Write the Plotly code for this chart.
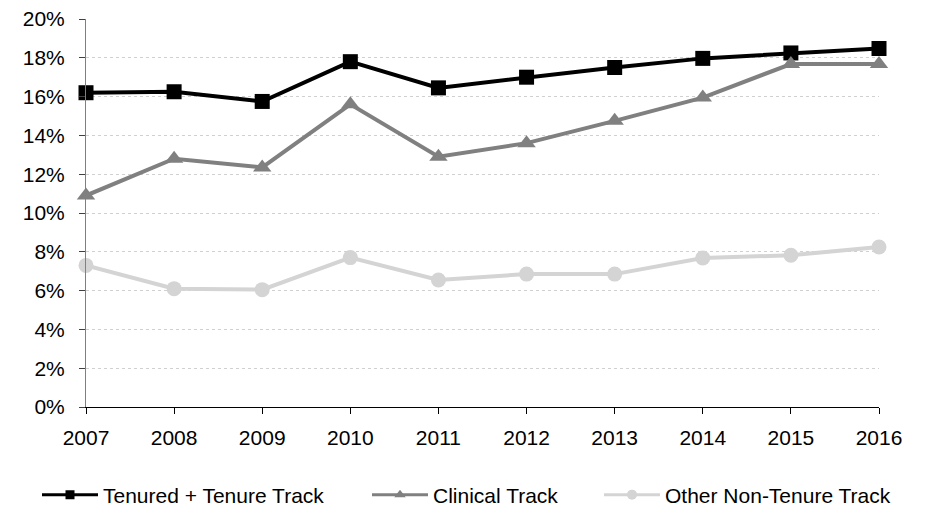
import plotly.graph_objects as go

years = [2007, 2008, 2009, 2010, 2011, 2012, 2013, 2014, 2015, 2016]
tenured = [16.2, 16.25, 15.75, 17.8, 16.45, 17.0, 17.5, 17.97, 18.25, 18.48]
clinical = [10.9, 12.8, 12.35, 15.6, 12.9, 13.6, 14.75, 15.95, 17.68, 17.68]
other = [7.3, 6.1, 6.05, 7.7, 6.55, 6.85, 6.85, 7.68, 7.82, 8.25]
y_ticks = [0, 2, 4, 6, 8, 10, 12, 14, 16, 18, 20]
y_labels = [f"{v}%" for v in y_ticks]

FONT = "Liberation Sans, Arial, sans-serif"

series = [
    ("Tenured + Tenure Track", tenured, "#000000", "square", 15, 9, "legend"),
    ("Clinical Track", clinical, "#808080", "triangle-up", 16, 10, "legend2"),
    ("Other Non-Tenure Track", other, "#d4d4d4", "circle", 15, 10, "legend3"),
]

fig = go.Figure()
for name, vals, color, sym, msize, lsize, leg in series:
    fig.add_trace(go.Scatter(x=years, y=vals, name=name, showlegend=False,
                             mode="lines+markers", cliponaxis=False,
                             line=dict(color=color, width=4),
                             marker=dict(symbol=sym, size=msize, color=color)))
    # legend entry with smaller symbol, as in the reference
    fig.add_trace(go.Scatter(x=[None], y=[None], name=name, legend=leg,
                             mode="lines+markers", showlegend=True,
                             line=dict(color=color, width=3),
                             marker=dict(symbol=sym, size=lsize, color=color)))

leg_common = dict(orientation="h", xref="container", yref="container",
                  y=1 - 495 / 516, yanchor="middle", xanchor="left",
                  font=dict(family=FONT, size=21, color="#000000"),
                  itemwidth=56, bgcolor="rgba(0,0,0,0)", borderwidth=0)

fig.update_layout(
    width=928, height=516,
    margin=dict(l=86, r=49, t=19, b=109),
    paper_bgcolor="white", plot_bgcolor="white",
    font=dict(family=FONT, size=21, color="#000000"),
    showlegend=True,
    legend=dict(x=37 / 928, **leg_common),
    legend2=dict(x=367 / 928, **leg_common),
    legend3=dict(x=599 / 928, **leg_common),
    xaxis=dict(range=[2007, 2016], tickmode="array", tickvals=years,
               ticktext=[str(y) for y in years], automargin=False,
               showgrid=False, showline=True, linecolor="#000000", linewidth=1,
               ticks="outside", ticklen=6, tickcolor="#000000", zeroline=False,
               ticklabelstandoff=6, tickfont=dict(size=21)),
    yaxis=dict(range=[0, 20], tickmode="array", tickvals=y_ticks, ticktext=y_labels,
               automargin=False,
               showgrid=True, gridcolor="#d0d0d0", griddash="dot", gridwidth=1,
               showline=True, linecolor="#808080", linewidth=1,
               ticks="outside", ticklen=6, tickcolor="#404040", zeroline=False,
               ticklabelstandoff=10, tickfont=dict(size=21)),
)

fig.write_html("out.html", config={"displayModeBar": False},
               post_script="document.body.style.margin='0';")
